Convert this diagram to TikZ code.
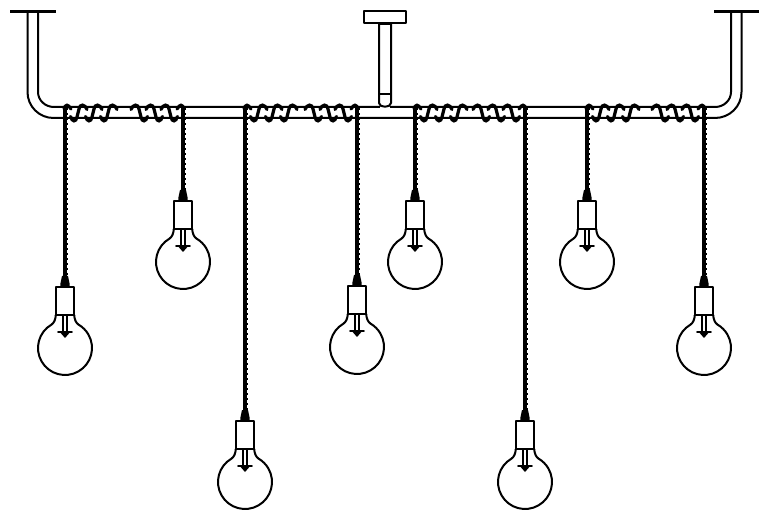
\documentclass[tikz,border=0pt]{standalone}
\tikzset{
  pipe/.style={line width=2pt,draw=black},
  plate/.style={line width=3pt,draw=black},
  rope/.style={line width=3.9pt,draw=black},
  ropetwist/.style={line width=5pt,draw=black,dash pattern=on 2pt off 3pt},
  coilstrand/.style={line width=3.2pt,draw=black,line cap=round},
  lampline/.style={line width=2pt,draw=black,line join=round}
}
% one turn of a coil: #1 x of top peak, #2 direction (+1 or -1)
\newcommand{\coilturn}[2]{%
  \draw[coilstrand] ({#1+#2*5},109.5) .. controls ({#1+#2*3},104) and ({#1-#2*2},103.5) .. ({#1-#2*3},109)
     -- ({#1-#2*5},117) .. controls ({#1-#2*6},122.5) and ({#1-#2*10},122) .. ({#1-#2*11.5},116.5);}
\newcommand{\coil}[2]{%
  \coilturn{#1+#2*17}{#2}\coilturn{#1+#2*32}{#2}\coilturn{#1+#2*47}{#2}
  \draw[coilstrand] ({#1-#2*1},109) .. controls ({#1+#2*0.5},104) and ({#1+#2*3},104) .. ({#1+#2*6},109);}
\newcommand{\lamp}[2]{%
  % #1 wire x, #2 socket top
  \coordinate (wt) at (#1,108);
  \coordinate (wb) at (#1,#2-7);
  \draw[rope] (wt) -- (wb);
  \draw[ropetwist] (wt) -- (wb);
  \fill[black] (#1-3,#2-11) -- (#1+3,#2-11) -- (#1+4.7,#2-3) -- (#1+4.7,#2) -- (#1-4.7,#2) -- (#1-4.7,#2-3) -- cycle;
  \draw[lampline] (#1-9.25,#2) rectangle (#1+9.25,#2+28);
  \draw[lampline] (#1-9.25,#2+28) .. controls (#1-9.25,#2+32) and (#1-11,#2+36) .. (#1-13.5,#2+37.6)
     arc[start angle=240,delta angle=-300,x radius=27,y radius=27]
     .. controls (#1+11,#2+36) and (#1+9.25,#2+32) .. (#1+9.25,#2+28);
  \draw[line width=1.7pt] (#1-2.25,#2+28) -- (#1-2.25,#2+44);
  \draw[line width=1.7pt] (#1+2.25,#2+28) -- (#1+2.25,#2+44);
  \draw[line width=2.4pt,line cap=round] (#1-6.75,#2+45) -- (#1+6.75,#2+45);
  \fill[black] (#1-5.25,#2+45) -- (#1+5.25,#2+45) -- (#1,#2+51) -- cycle;
}
\begin{document}
\begin{tikzpicture}[x=1pt,y=-1pt]
\useasboundingbox (0,0) rectangle (768,510);
\fill[white] (0,0) rectangle (768,510);
% bar and arms
\draw[pipe] (27.5,12) -- (27.5,92) arc[start angle=180,end angle=90,x radius=26,y radius=26] -- (715,118)
   arc[start angle=90,end angle=0,x radius=26.5,y radius=26] -- (741.5,12);
\draw[pipe] (38,12) -- (38,92) arc[start angle=180,end angle=90,x radius=16,y radius=15] -- (715,107)
   arc[start angle=90,end angle=0,x radius=16,y radius=15] -- (731,12);
\draw[plate] (10,12) -- (56,12);
\draw[plate] (714,12) -- (759,12);
% centre mount
\fill[white] (380,100) rectangle (390,109);
\draw[lampline] (363.5,11.5) rectangle (406,23);
\fill[black] (378,22) rectangle (392,25);
\draw[lampline] (379,23) -- (379,103) .. controls (379,108) and (391,108) .. (391,103) -- (391,23);
\draw[lampline] (379,94) -- (391,94);
\foreach \x/\d in {65/1,183/-1,245/1,357/-1,415/1,525/-1,587/1,704/-1}{\coil{\x}{\d}}
\lamp{65}{287}
\lamp{183}{201}
\lamp{245}{421}
\lamp{357}{286}
\lamp{415}{201}
\lamp{525}{421}
\lamp{587}{201}
\lamp{704}{287}
\end{tikzpicture}
\end{document}
